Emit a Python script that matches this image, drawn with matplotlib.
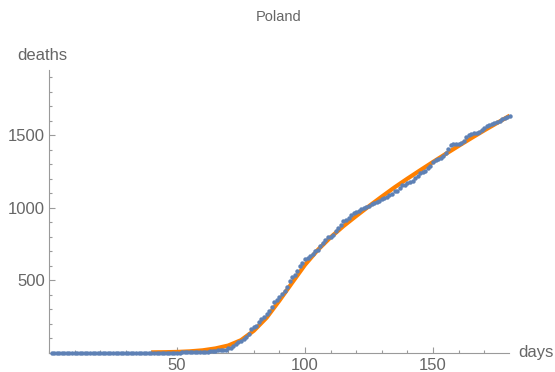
import numpy as np
import matplotlib
matplotlib.use("Agg")
import matplotlib.pyplot as plt
from matplotlib.ticker import MultipleLocator

# cumulative deaths, day 1..180 (zero until day 51)
days = np.arange(1, 181)
deaths = [0] * 51 + [
    1, 2, 3, 3, 3, 5, 5, 5, 5, 5,                     # 52-61
    5, 7, 8, 10, 14, 16, 17, 18, 31, 33,              # 62-71
    43, 57, 71, 79, 94, 107, 129, 159, 174, 181,      # 72-81
    208, 232, 245, 263, 286, 314, 347, 360, 380, 401, # 82-91
    426, 454, 494, 524, 535, 562, 596, 618, 644, 651, # 92-101
    664, 678, 698, 707, 733, 755, 776, 796, 800, 808, # 102-111
    839, 861, 883, 907, 915, 925, 948, 961, 972, 979, # 112-121
    988, 996, 1002, 1010, 1024, 1030, 1040, 1048, 1058, 1066,  # 122-131
    1075, 1084, 1096, 1115, 1117, 1133, 1153, 1157, 1170, 1175,  # 132-141
    1183, 1206, 1215, 1237, 1247, 1256, 1272, 1286, 1316, 1330,  # 142-151
    1339, 1343, 1356, 1375, 1405, 1430, 1436, 1438, 1441, 1446,  # 152-161
    1463, 1485, 1500, 1508, 1515, 1518, 1523, 1536, 1551, 1561,  # 162-171
    1571, 1576, 1582, 1592, 1597, 1612, 1618, 1627, 1633,        # 172-180
]
assert len(deaths) == len(days)

# fitted curve, read every 5 days (flat at zero before day 40, hidden by dots)
fit_days = np.arange(40, 181, 5)
fit_vals = [1, 2, 4, 8, 15, 28, 48, 85, 150, 240,
            358, 482, 605, 708, 795, 872, 942, 1010, 1076, 1140, 1200, 1258,
            1315, 1371, 1426, 1480, 1533, 1584, 1635]

BLUE = "#5E81B5"
ORANGE = "#FF8000"
AX = "#9a9a9a"
TXT = "#666666"

plt.rcParams.update({
    "font.family": ["Liberation Sans", "DejaVu Sans"],
    "font.size": 12,
})

fig = plt.figure(figsize=(5.55, 3.72), dpi=100)
ax = fig.add_axes([49 / 555, 19.5 / 372, 459.5 / 555, 282.5 / 372])

ax.plot(fit_days, fit_vals, color=ORANGE, lw=3.0, solid_capstyle="butt",
        zorder=2)
ax.plot(days, deaths, ls="none", marker="o", ms=3.2, mew=0, color=BLUE,
        zorder=3, clip_on=False)

ax.set_xlim(0, 179.5)
ax.set_ylim(0, 1950)

for s in ("top", "right"):
    ax.spines[s].set_visible(False)
for s in ("left", "bottom"):
    ax.spines[s].set_color(AX)
    ax.spines[s].set_linewidth(0.8)

ax.xaxis.set_major_locator(MultipleLocator(50))
ax.xaxis.set_minor_locator(MultipleLocator(10))
ax.yaxis.set_major_locator(MultipleLocator(500))
ax.yaxis.set_minor_locator(MultipleLocator(100))
ax.tick_params(which="both", direction="in", color=AX, width=0.8,
               labelcolor=TXT, labelsize=12)
ax.tick_params(which="major", length=4)
ax.tick_params(which="minor", length=2.5)
ax.tick_params(axis="x", pad=4)
ax.tick_params(axis="y", pad=3)

xt = [50, 100, 150]
ax.set_xticks(xt)
ax.set_xticklabels([str(v) for v in xt])
yt = [500, 1000, 1500]
ax.set_yticks(yt)
ax.set_yticklabels([str(v) for v in yt])

fig.text(279 / 555, 1 - 17 / 372, "Poland", ha="center", va="center",
         fontsize=10.5, color=TXT)
fig.text(42 / 555, 1 - 55 / 372, "deaths", ha="center", va="center",
         fontsize=12, color=TXT)
fig.text(536 / 555, 1 - 352 / 372, "days", ha="center", va="center",
         fontsize=12, color=TXT)

fig.savefig("out.png", dpi=100)
